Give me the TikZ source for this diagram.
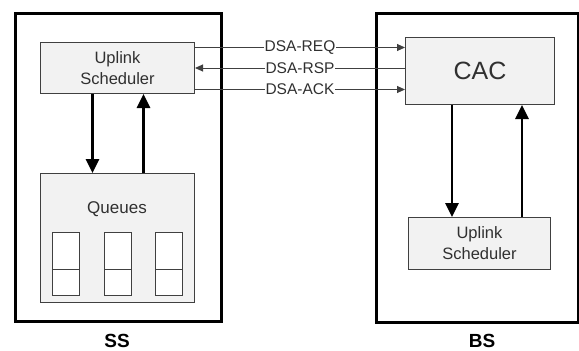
\documentclass[tikz,border=0pt]{standalone}
\usepackage{fontspec}
\setmainfont{Liberation Sans}
\usetikzlibrary{arrows.meta,calc}
\definecolor{boxfill}{HTML}{F2F2F2}
\definecolor{boxline}{HTML}{404040}
\definecolor{txt}{HTML}{303030}
\tikzset{
  outerbox/.style={draw=black,line width=3pt,minimum width=#1,anchor=north west,inner sep=0pt},
  graybox/.style={draw=boxline,fill=boxfill,line width=1pt,anchor=north west,inner sep=0pt,text=txt,align=center},
  qcell/.style={draw=boxline,fill=white,line width=1pt,anchor=north west,inner sep=0pt,minimum width=27pt,minimum height=37pt},
  bigarrow/.style={line width=2.6pt,-{Triangle[length=14pt,width=13pt]}},
  msg/.style={draw=boxline,line width=1pt,-{Triangle[length=8pt,width=7pt]}},
  msglabel/.style={fill=white,inner sep=1pt,text=txt,font=\fontsize{15.5}{18}\selectfont},
  sitelabel/.style={font=\bfseries\fontsize{19}{22}\selectfont,text=black,anchor=base,inner sep=0pt}
}
\begin{document}
\begin{tikzpicture}[x=1pt,y=-1pt]
\useasboundingbox (0,0) rectangle (579,351);
\node[outerbox=206pt,minimum height=308pt] (ss) at (14,12) {};
\node[outerbox=202pt,minimum height=309pt] (bs) at (375,12) {};
% SS
\node[graybox,minimum width=154pt,minimum height=51pt,font=\fontsize{16.5}{21}\selectfont] (ssup) at (40,42) {Uplink\\Scheduler};
\node[graybox,minimum width=154pt,minimum height=129pt] (queues) at (40,173) {};
\node[text=txt,font=\fontsize{17}{20}\selectfont] (qlabel) at (117,209) {Queues};
\foreach \x/\n in {52/a,104/b,155/c}{
  \node[qcell] (q\n1) at (\x,232) {};
  \node[qcell,minimum height=26pt] (q\n2) at (\x,269) {};
}
\draw[bigarrow] ([xshift=-25pt]ssup.south) -- ([xshift=-25pt]queues.north);
\draw[bigarrow] ([xshift=26pt]queues.north) -- ([xshift=26pt]ssup.south);
\node[sitelabel] (sslabel) at (117,347) {SS};
% BS
\node[graybox,minimum width=149pt,minimum height=67pt,font=\fontsize{25}{30}\selectfont] (cac) at (405,37) {CAC};
\node[graybox,minimum width=142pt,minimum height=52pt,font=\fontsize{16.5}{21}\selectfont] (bsup) at (408,217) {Uplink\\Scheduler};
\draw[bigarrow] (cac.south -| 452,0) -- (bsup.north -| 452,0);
\draw[bigarrow] (bsup.north -| 522,0) -- (cac.south -| 522,0);
\node[sitelabel] (bslabel) at (482,347) {BS};
% messages
\draw[msg] ([yshift=20.5pt]ssup.east) -- ([yshift=20.5pt]ssup.east -| cac.west) node[msglabel,midway] {DSA-REQ};
\draw[msg] (ssup.east -| cac.west) -- (ssup.east) node[msglabel,midway] {DSA-RSP};
\draw[msg] ([yshift=-21.5pt]ssup.east) -- ([yshift=-21.5pt]ssup.east -| cac.west) node[msglabel,midway] {DSA-ACK};
\end{tikzpicture}
\end{document}
